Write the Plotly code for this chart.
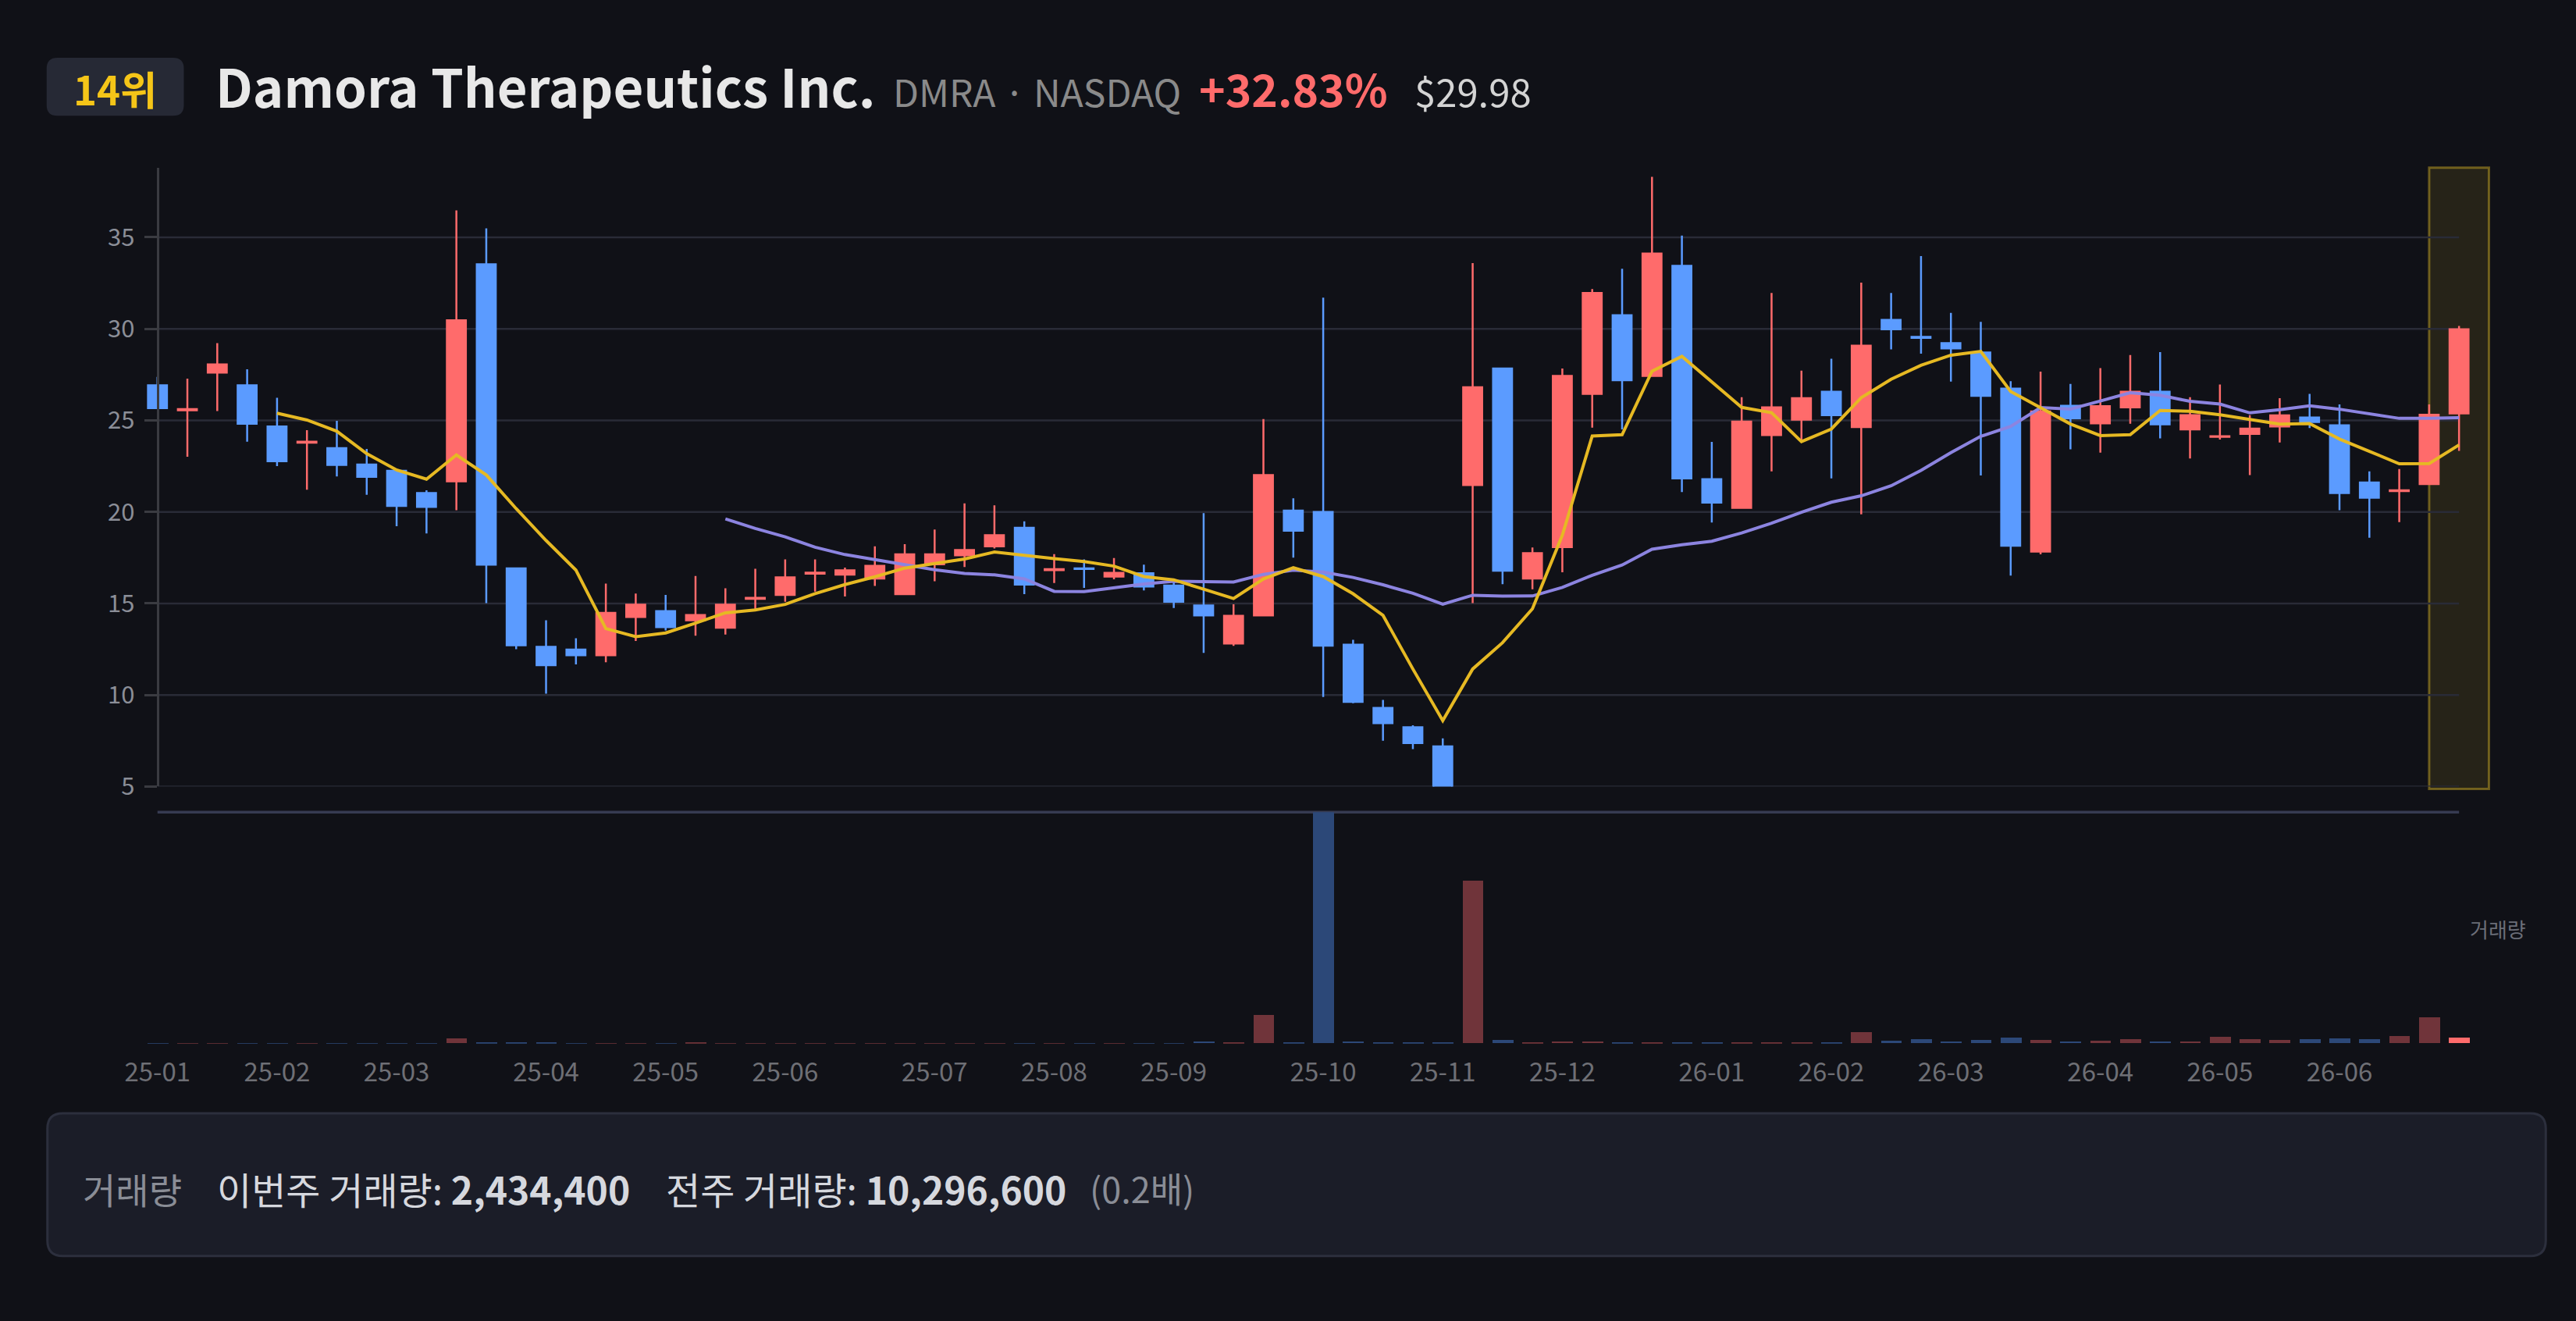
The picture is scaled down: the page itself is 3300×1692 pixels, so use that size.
import plotly.graph_objects as go

W, H = 3300, 1692
FONT = "Noto Sans CJK KR, Noto Sans, sans-serif"
BG = "#101117"
UP = "#ff6b6b"
DOWN = "#5b9bff"

# weekly candles (week starting monday)
weeks = [
    "2025-01-06", "2025-01-13", "2025-01-20", "2025-01-27",
    "2025-02-03", "2025-02-10", "2025-02-17", "2025-02-24",
    "2025-03-03", "2025-03-10", "2025-03-17", "2025-03-24", "2025-03-31",
    "2025-04-07", "2025-04-14", "2025-04-21", "2025-04-28",
    "2025-05-05", "2025-05-12", "2025-05-19", "2025-05-26",
    "2025-06-02", "2025-06-09", "2025-06-16", "2025-06-23", "2025-06-30",
    "2025-07-07", "2025-07-14", "2025-07-21", "2025-07-28",
    "2025-08-04", "2025-08-11", "2025-08-18", "2025-08-25",
    "2025-09-01", "2025-09-08", "2025-09-15", "2025-09-22", "2025-09-29",
    "2025-10-06", "2025-10-13", "2025-10-20", "2025-10-27",
    "2025-11-03", "2025-11-10", "2025-11-17", "2025-11-24",
    "2025-12-01", "2025-12-08", "2025-12-15", "2025-12-22", "2025-12-29",
    "2026-01-05", "2026-01-12", "2026-01-19", "2026-01-26",
    "2026-02-02", "2026-02-09", "2026-02-16", "2026-02-23",
    "2026-03-02", "2026-03-09", "2026-03-16", "2026-03-23", "2026-03-30",
    "2026-04-06", "2026-04-13", "2026-04-20", "2026-04-27",
    "2026-05-04", "2026-05-11", "2026-05-18", "2026-05-25",
    "2026-06-01", "2026-06-08", "2026-06-15", "2026-06-22", "2026-06-29",
]

opens = [
    26.92, 25.55, 27.61, 26.92, 24.67, 23.78, 23.48, 22.59, 22.25, 21.03,
    21.67, 33.53, 16.92, 12.63, 12.48, 12.17, 14.26, 14.58, 14.08, 13.68,
    15.25, 15.47, 16.63, 16.58, 16.36, 15.51, 17.14, 17.63, 18.12, 19.13,
    16.82, 16.92, 16.47, 16.65, 15.98, 14.89, 12.81, 14.35, 20.07, 20.00,
    12.75, 9.29, 8.24, 7.19, 21.47, 27.83, 16.36, 18.08, 26.45, 30.74,
    27.43, 33.44, 21.79, 20.22, 24.20, 25.04, 26.56, 24.64, 30.49, 29.56,
    29.22, 28.71, 26.74, 17.83, 25.80, 24.84, 25.71, 26.56, 24.51, 24.10,
    24.26, 24.67, 25.16, 24.73, 21.61, 21.14, 21.52, 25.38,
]
highs = [
    27.37, 27.28, 29.22, 27.79, 26.23, 24.46, 24.98, 23.44, 22.30, 21.18,
    36.47, 35.49, 16.95, 14.08, 13.10, 16.09, 15.54, 15.47, 16.50, 15.83,
    16.90, 17.41, 17.41, 16.96, 18.12, 18.24, 19.04, 20.47, 20.36, 19.49,
    17.70, 17.41, 17.48, 17.12, 16.36, 19.93, 14.96, 25.07, 20.74, 31.70,
    13.01, 9.73, 8.35, 7.63, 33.59, 27.85, 18.06, 27.83, 32.17, 33.28,
    38.30, 35.09, 23.82, 26.27, 31.96, 27.72, 28.37, 32.52, 31.96, 33.97,
    30.87, 30.38, 27.14, 27.66, 26.99, 27.86, 28.57, 28.73, 26.27, 26.96,
    25.29, 26.21, 26.45, 25.87, 22.21, 22.34, 25.87, 30.16,
]
lows = [
    25.67, 23.01, 25.51, 23.84, 22.50, 21.21, 21.94, 20.94, 19.22, 18.82,
    20.09, 15.02, 12.50, 10.07, 11.67, 11.79, 12.95, 13.53, 13.24, 13.30,
    14.64, 15.09, 15.65, 15.38, 15.96, 15.50, 16.21, 16.99, 18.00, 15.51,
    16.12, 15.85, 16.32, 15.71, 14.75, 12.30, 12.68, 14.35, 17.50, 9.89,
    9.55, 7.50, 7.05, 4.70, 15.02, 16.05, 15.78, 16.70, 24.60, 24.51,
    27.40, 21.09, 19.42, 20.20, 22.21, 23.84, 21.83, 19.87, 28.88, 28.64,
    27.12, 21.99, 16.52, 17.68, 23.42, 23.24, 24.82, 24.02, 22.92, 23.95,
    22.01, 23.79, 24.58, 20.09, 18.59, 19.44, 21.50, 23.33,
]
closes = [
    25.67, 25.62, 28.06, 24.82, 22.77, 23.84, 22.57, 21.92, 20.33, 20.27,
    30.47, 17.12, 12.72, 11.63, 12.17, 14.49, 14.93, 13.71, 14.37, 14.93,
    15.31, 16.43, 16.68, 16.81, 17.05, 17.68, 17.68, 17.92, 18.73, 16.03,
    16.87, 16.88, 16.67, 15.92, 15.09, 14.35, 14.33, 22.01, 18.97, 12.70,
    9.62, 8.46, 7.37, 4.85, 26.81, 16.79, 17.75, 27.43, 31.96, 27.19,
    34.11, 21.83, 20.51, 24.93, 25.71, 26.21, 25.29, 29.08, 29.98, 29.51,
    28.93, 26.34, 18.15, 25.49, 25.11, 25.78, 26.56, 24.78, 25.29, 24.13,
    24.55, 25.27, 24.91, 21.03, 20.78, 21.18, 25.31, 29.98,
]

# moving averages as drawn on the chart (5 and 20 weeks)
ma5 = [None] * 4 + [
    25.39, 25.02, 24.41, 23.18, 22.29, 21.79, 23.11, 22.02, 20.18, 18.44,
    16.82, 13.63, 13.19, 13.39, 13.93, 14.49, 14.65, 14.95, 15.54, 16.03,
    16.46, 16.93, 17.18, 17.43, 17.81, 17.61, 17.45, 17.29, 17.04, 16.47,
    16.29, 15.78, 15.27, 16.34, 16.95, 16.47, 15.53, 14.35, 11.42, 8.60,
    11.42, 12.86, 14.71, 18.73, 24.15, 24.22, 27.69, 28.50, 27.12, 25.71,
    25.42, 23.84, 24.53, 26.24, 27.25, 28.01, 28.56, 28.77, 26.58, 25.68,
    24.80, 24.17, 24.22, 25.54, 25.50, 25.31, 25.06, 24.80, 24.83, 23.98,
    23.31, 22.63, 22.64, 23.66,
]
ma20 = [None] * 19 + [
    19.62, 19.10, 18.64, 18.07, 17.67, 17.39, 17.08, 16.84, 16.64, 16.56,
    16.34, 15.66, 15.65, 15.85, 16.06, 16.21, 16.20, 16.17, 16.59, 16.82,
    16.71, 16.42, 16.02, 15.56, 14.96, 15.45, 15.40, 15.41, 15.88, 16.54,
    17.10, 17.96, 18.21, 18.40, 18.85, 19.38, 19.98, 20.53, 20.88, 21.43,
    22.27, 23.24, 24.13, 24.67, 25.70, 25.62, 26.06, 26.51, 26.37, 26.04,
    25.89, 25.41, 25.58, 25.80, 25.61, 25.36, 25.11, 25.11, 25.15,
]

volumes = [
    20000, 20000, 20000, 20000, 20000, 20000, 20000, 20000, 20000, 20000,
    2000000, 600000, 150000, 150000, 30000, 100000, 100000, 20000, 200000, 100000,
    20000, 20000, 20000, 20000, 20000, 20000, 20000, 100000, 20000, 20000,
    20000, 20000, 20000, 20000, 20000, 900000, 150000, 11200000, 300000, 90900000,
    900000, 600000, 300000, 300000, 63900000, 1400000, 600000, 900000, 900000, 300000,
    300000, 300000, 200000, 200000, 200000, 200000, 300000, 4450000, 1200000, 1800000,
    900000, 1500000, 2400000, 1300000, 900000, 1200000, 1800000, 900000, 900000, 2700000,
    1800000, 1500000, 1800000, 2100000, 1800000, 3000000, 10296600, 2434400,
]

month_ticks = [
    "2025-01-06", "2025-02-03", "2025-03-03", "2025-04-07", "2025-05-05", "2025-06-02",
    "2025-07-07", "2025-08-04", "2025-09-01", "2025-10-06", "2025-11-03", "2025-12-01",
    "2026-01-05", "2026-02-02", "2026-03-02", "2026-04-06", "2026-05-04", "2026-06-01",
]
month_labels = [
    "25-01", "25-02", "25-03", "25-04", "25-05", "25-06", "25-07", "25-08", "25-09",
    "25-10", "25-11", "25-12", "26-01", "26-02", "26-03", "26-04", "26-05", "26-06",
]
price_ticks = [5, 10, 15, 20, 25, 30, 35]

rank_text = "14위"
name_text = "Damora Therapeutics Inc."
ticker_text = "DMRA · NASDAQ"
change_text = "+32.83%"
price_text = "$29.98"
this_week_vol = "2,434,400"
last_week_vol = "10,296,600"
vol_ratio = "(0.2배)"


def px(x):
    return x / W


def py(y):
    return 1 - y / H


def rounded_path(x0, y0, x1, y1, r):
    return (
        f"M {px(x0 + r)},{py(y0)} L {px(x1 - r)},{py(y0)} "
        f"Q {px(x1)},{py(y0)} {px(x1)},{py(y0 + r)} L {px(x1)},{py(y1 - r)} "
        f"Q {px(x1)},{py(y1)} {px(x1 - r)},{py(y1)} L {px(x0 + r)},{py(y1)} "
        f"Q {px(x0)},{py(y1)} {px(x0)},{py(y1 - r)} L {px(x0)},{py(y0 + r)} "
        f"Q {px(x0)},{py(y0)} {px(x0 + r)},{py(y0)} Z"
    )


n = len(weeks)
vol_colors = []
for i in range(n):
    up = closes[i] >= opens[i]
    if i == n - 1:
        vol_colors.append(UP)
    else:
        vol_colors.append("#70343a" if up else "#2c4878")

fig = go.Figure()

fig.add_trace(go.Candlestick(
    x=weeks, open=opens, high=highs, low=lows, close=closes,
    increasing=dict(line=dict(color=UP, width=2.5), fillcolor=UP),
    decreasing=dict(line=dict(color=DOWN, width=2.5), fillcolor=DOWN),
    whiskerwidth=0, showlegend=False, xaxis="x", yaxis="y",
))
fig.add_trace(go.Scatter(
    x=weeks, y=ma20, mode="lines", line=dict(color="#8c84e0", width=4),
    showlegend=False, xaxis="x", yaxis="y",
))
fig.add_trace(go.Scatter(
    x=weeks, y=ma5, mode="lines", line=dict(color="#e6b923", width=4),
    showlegend=False, xaxis="x", yaxis="y",
))
fig.add_trace(go.Bar(
    x=weeks, y=volumes, marker=dict(color=vol_colors, line=dict(width=0)),
    width=0.7, showlegend=False, xaxis="x2", yaxis="y2",
))

# x index 0 sits at 180px, 38.56px per week
x_dom = [px(180 - 0.5 * 38.56), px(180 + 78.2 * 38.56)]
x_rng = [-0.5, 78.2]

shapes = []
for v in price_ticks:
    shapes.append(dict(type="line", xref="x", yref="y", x0=0, x1=n - 1, y0=v, y1=v,
                       line=dict(color="#292b37", width=2.5), layer="below"))
shapes.append(dict(type="line", xref="x", yref="y2 domain", x0=0, x1=n - 1, y0=1.0, y1=1.0,
                   line=dict(color="#363b52", width=3.5), layer="below"))
shapes.append(dict(type="rect", xref="x", yref="y domain", x0=n - 2, x1=n, y0=-0.004, y1=1.0,
                   fillcolor="rgba(240,200,40,0.10)", line=dict(color="rgba(240,200,40,0.40)", width=3),
                   layer="below"))
shapes.append(dict(type="path", xref="paper", yref="paper", path=rounded_path(37, 75, 214, 150, 14),
                   fillcolor="#262935", line=dict(width=0), layer="below"))
shapes.append(dict(type="path", xref="paper", yref="paper", path=rounded_path(38, 1443, 3261, 1628, 20),
                   fillcolor="#1b1d28", line=dict(color="#2c2f3d", width=3), layer="below"))


def note(text, x, y, size, color, anchor="left", bold=False):
    if bold:
        text = f"<b>{text}</b>"
    return dict(text=text, x=px(x), y=py(y), xref="paper", yref="paper",
                xanchor=anchor, yanchor="middle", showarrow=False,
                font=dict(family=FONT, size=size, color=color))


annotations = [
    note(rank_text, 125, 114, 51, "#f5c518", anchor="center", bold=True),
    note(name_text, 253, 110, 67, "#e8e8e8", bold=True),
    note(ticker_text, 1127, 117, 48, "#8a8a8a"),
    note(change_text, 1522, 113, 57, UP, bold=True),
    note(price_text, 1800, 117, 49, "#d4d4d4"),
    note("거래량", 3199, 1204, 26, "#6b6e78", anchor="center"),
    note("거래량", 82, 1540, 46, "#8a8d96"),
    note(f"이번주 거래량: <b>{this_week_vol}</b>", 255, 1540, 48, "#d6d8de"),
    note(f"전주 거래량: <b>{last_week_vol}</b>", 834, 1540, 48, "#d6d8de"),
    note(vol_ratio, 1381, 1540, 45, "#8a8d96"),
]

fig.update_layout(
    width=W, height=H,
    margin=dict(l=0, r=0, t=0, b=0),
    paper_bgcolor=BG, plot_bgcolor="rgba(0,0,0,0)",
    font=dict(family=FONT),
    boxgap=0.365, boxgroupgap=0,
    bargap=0,
    showlegend=False,
    hovermode=False,
    shapes=shapes,
    annotations=annotations,
    xaxis=dict(domain=x_dom, range=x_rng, type="category", anchor="y",
               showticklabels=False, showgrid=False, zeroline=False, showline=False,
               rangeslider=dict(visible=False), fixedrange=True),
    yaxis=dict(domain=[py(1019.5), py(217.4)], range=[5, 38.8], anchor="free", position=px(180),
               tickvals=price_ticks, showgrid=False, zeroline=False,
               showline=True, linecolor="#3a3b41", linewidth=3,
               ticks="outside", ticklen=16, tickwidth=3, tickcolor="#3a3b41",
               ticklabelstandoff=6,
               tickfont=dict(family=FONT, size=31, color="#8b8e97"), fixedrange=True),
    xaxis2=dict(domain=x_dom, range=x_rng, type="category", anchor="y2",
                tickvals=month_ticks, ticktext=month_labels, ticks="",
                ticklabelstandoff=14,
                tickfont=dict(family=FONT, size=33, color="#6e6f75"),
                showgrid=False, zeroline=False, showline=False, fixedrange=True),
    yaxis2=dict(domain=[py(1352.7), py(1052.7)], range=[0, 90900000], visible=False,
                fixedrange=True),
)

fig.write_html(
    "out.html",
    config={"displayModeBar": False},
    post_script="document.body.style.margin='0';document.body.style.background='#101117';",
)
